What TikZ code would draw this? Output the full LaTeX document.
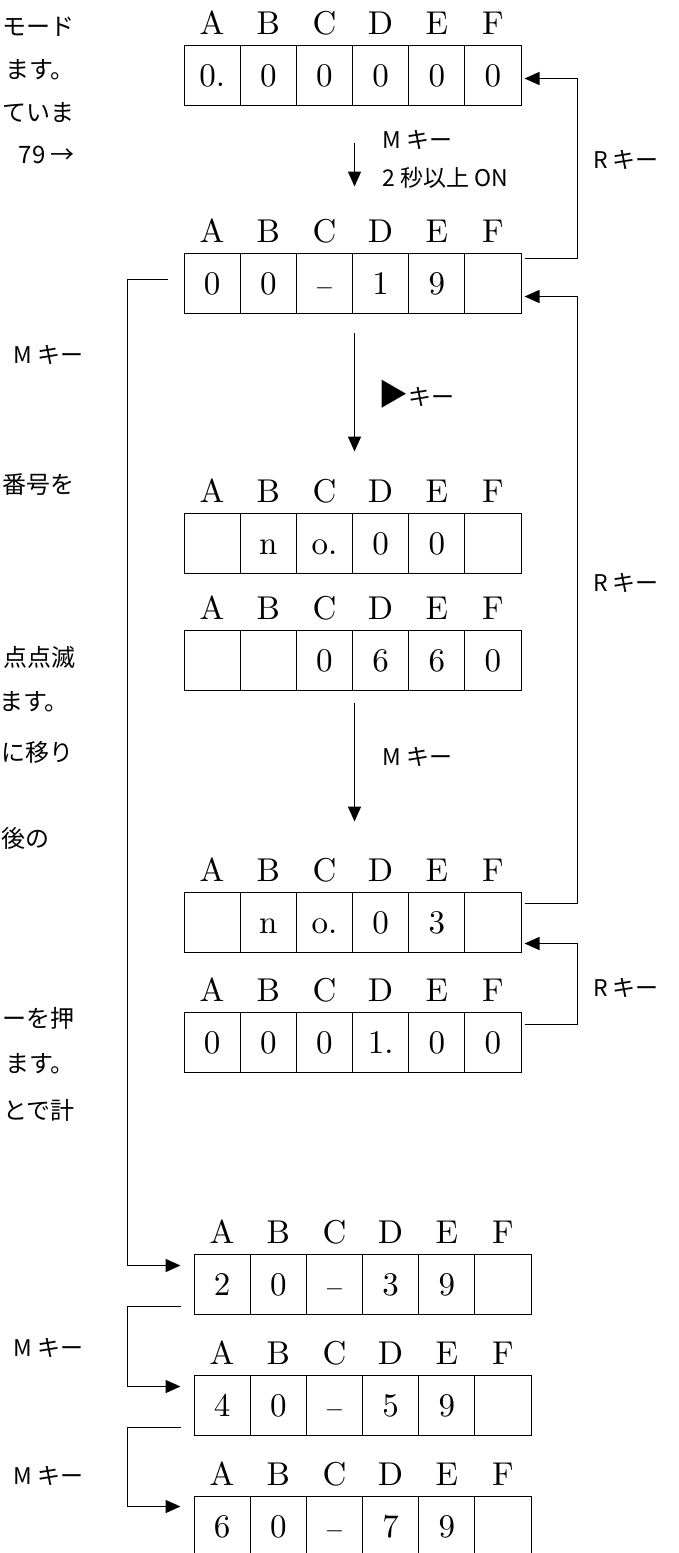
\documentclass[tikz,border=0pt]{standalone}
\usepackage{fontspec}
\newfontfamily\jp{Noto Sans CJK JP}
\newfontfamily\cmten{lmroman10-regular.otf}
\usetikzlibrary{arrows.meta,calc}
\tikzset{
  cell/.style={draw,line width=1pt,minimum width=56.17pt,minimum height=60pt,inner sep=0pt,
    text height=22pt,text depth=0pt,font=\cmten\fontsize{33}{40}\selectfont},
  hdr/.style={inner sep=0pt,text height=22pt,text depth=0pt,font=\cmten\fontsize{33}{40}\selectfont},
  lbl/.style={inner sep=0pt,font=\jp\fontsize{23}{28}\selectfont},
  side/.style={inner sep=0pt,anchor=east,font=\jp\fontsize{24}{28}\selectfont},
  conn/.style={line width=1.5pt},
  arr/.style={conn,-{Triangle[length=15pt,width=13pt]}},
}
\newcommand{\dispbox}[9]{%
  \foreach \L [count=\i] in {A,B,C,D,E,F}{\node[hdr] (#1-h\i) at ({#2+(\i-0.5)*56.17},{#3-22}) {\L};}
  \node[cell] (#1-1) at ({#2+0.5*56.17},{#3+30}) {#4};
  \node[cell] (#1-2) at ({#2+1.5*56.17},{#3+30}) {#5};
  \node[cell] (#1-3) at ({#2+2.5*56.17},{#3+30}) {#6};
  \node[cell] (#1-4) at ({#2+3.5*56.17},{#3+30}) {#7};
  \node[cell] (#1-5) at ({#2+4.5*56.17},{#3+30}) {#8};
  \node[cell] (#1-6) at ({#2+5.5*56.17},{#3+30}) {#9};
}
\begin{document}
\begin{tikzpicture}[x=1pt,y=-1pt]
\useasboundingbox (0,0) rectangle (678,1553);
% displays
\dispbox{b1}{184}{45}{0.}{0}{0}{0}{0}{0}
\dispbox{b2}{184}{253}{0}{0}{$-$}{1}{9}{}
\dispbox{b3}{184}{513}{}{n}{o.}{0}{0}{}
\dispbox{b4}{184}{630}{}{}{0}{6}{6}{0}
\dispbox{b5}{184}{892}{}{n}{o.}{0}{3}{}
\dispbox{b6}{184}{1012}{0}{0}{0}{1.}{0}{0}
\dispbox{b7}{194}{1254}{2}{0}{$-$}{3}{9}{}
\dispbox{b8}{194}{1375}{4}{0}{$-$}{5}{9}{}
\dispbox{b9}{194}{1496}{6}{0}{$-$}{7}{9}{}
% down arrows
\draw[arr] ($(b1-3.south east)+(1.5,37)$) -- ($(b2-3.north east)+(1.5,-66)$);
\draw[arr] ($(b2-3.south east)+(1.5,19)$) -- ($(b3-3.north east)+(1.5,-61)$);
\draw[arr] ($(b4-3.south east)+(1.5,12)$) -- ($(b5-3.north east)+(1.5,-70)$);
\node[lbl,anchor=west] (m1) at (382,140) {M キー};
\node[lbl,anchor=west] (m1b) at (382,178) {2 秒以上 ON};
\node[lbl,anchor=west] (tri) at (378,394) {{\fontsize{30}{30}\selectfont ▶}キー};
\node[lbl,anchor=west] (m2) at (382,757) {M キー};
% R loops
\draw[arr] ($(b2-6.north east)+(3,6)$) -- ++(53,0) |- ($(b1-6.north east)+(3,34)$);
\draw[arr] ($(b5-6.north east)+(3,12)$) -- ++(53,0) |- ($(b2-6.north east)+(3,44)$);
\draw[arr] ($(b6-6.north east)+(3,13)$) -- ++(53,0) |- ($(b5-6.north east)+(3,52)$);
\node[lbl,anchor=west] (r1) at (593,160) {R キー};
\node[lbl,anchor=west] (r2) at (593,583) {R キー};
\node[lbl,anchor=west] (r3) at (593,988) {R キー};
% left loops
\draw[arr] ($(b2-1.north west)+(-16,27)$) -- ++(-40,0) |- ($(b7-1.north west)+(-13,12)$);
\draw[arr] ($(b7-1.north west)+(-13,53)$) -- ++(-53,0) |- ($(b8-1.north west)+(-13,12)$);
\draw[arr] ($(b8-1.north west)+(-13,53)$) -- ++(-53,0) |- ($(b9-1.north west)+(-13,11)$);
\node[lbl,anchor=west] (l1) at (13,355) {M キー};
\node[lbl,anchor=west] (l2) at (13,1348) {M キー};
\node[lbl,anchor=west] (l3) at (13,1476) {M キー};
% cropped side text
\node[side] (s1) at (75,27) {モード};
\node[side] (s2) at (75,70) {ます。};
\node[side] (s3) at (75,113) {ていま};
\node[side] (s4) at (75,155) {79 →};
\node[side] (s5) at (75,485) {番号を};
\node[side] (s6) at (76,657) {点点滅};
\node[side] (s7) at (69,702) {ます。};
\node[side] (s8) at (74,752) {に移り};
\node[side] (s9) at (50,838) {後の};
\node[side] (s10) at (75,1018) {ーを押};
\node[side] (s11) at (75,1064) {ます。};
\node[side] (s12) at (75,1110) {とで計};
\end{tikzpicture}
\end{document}
